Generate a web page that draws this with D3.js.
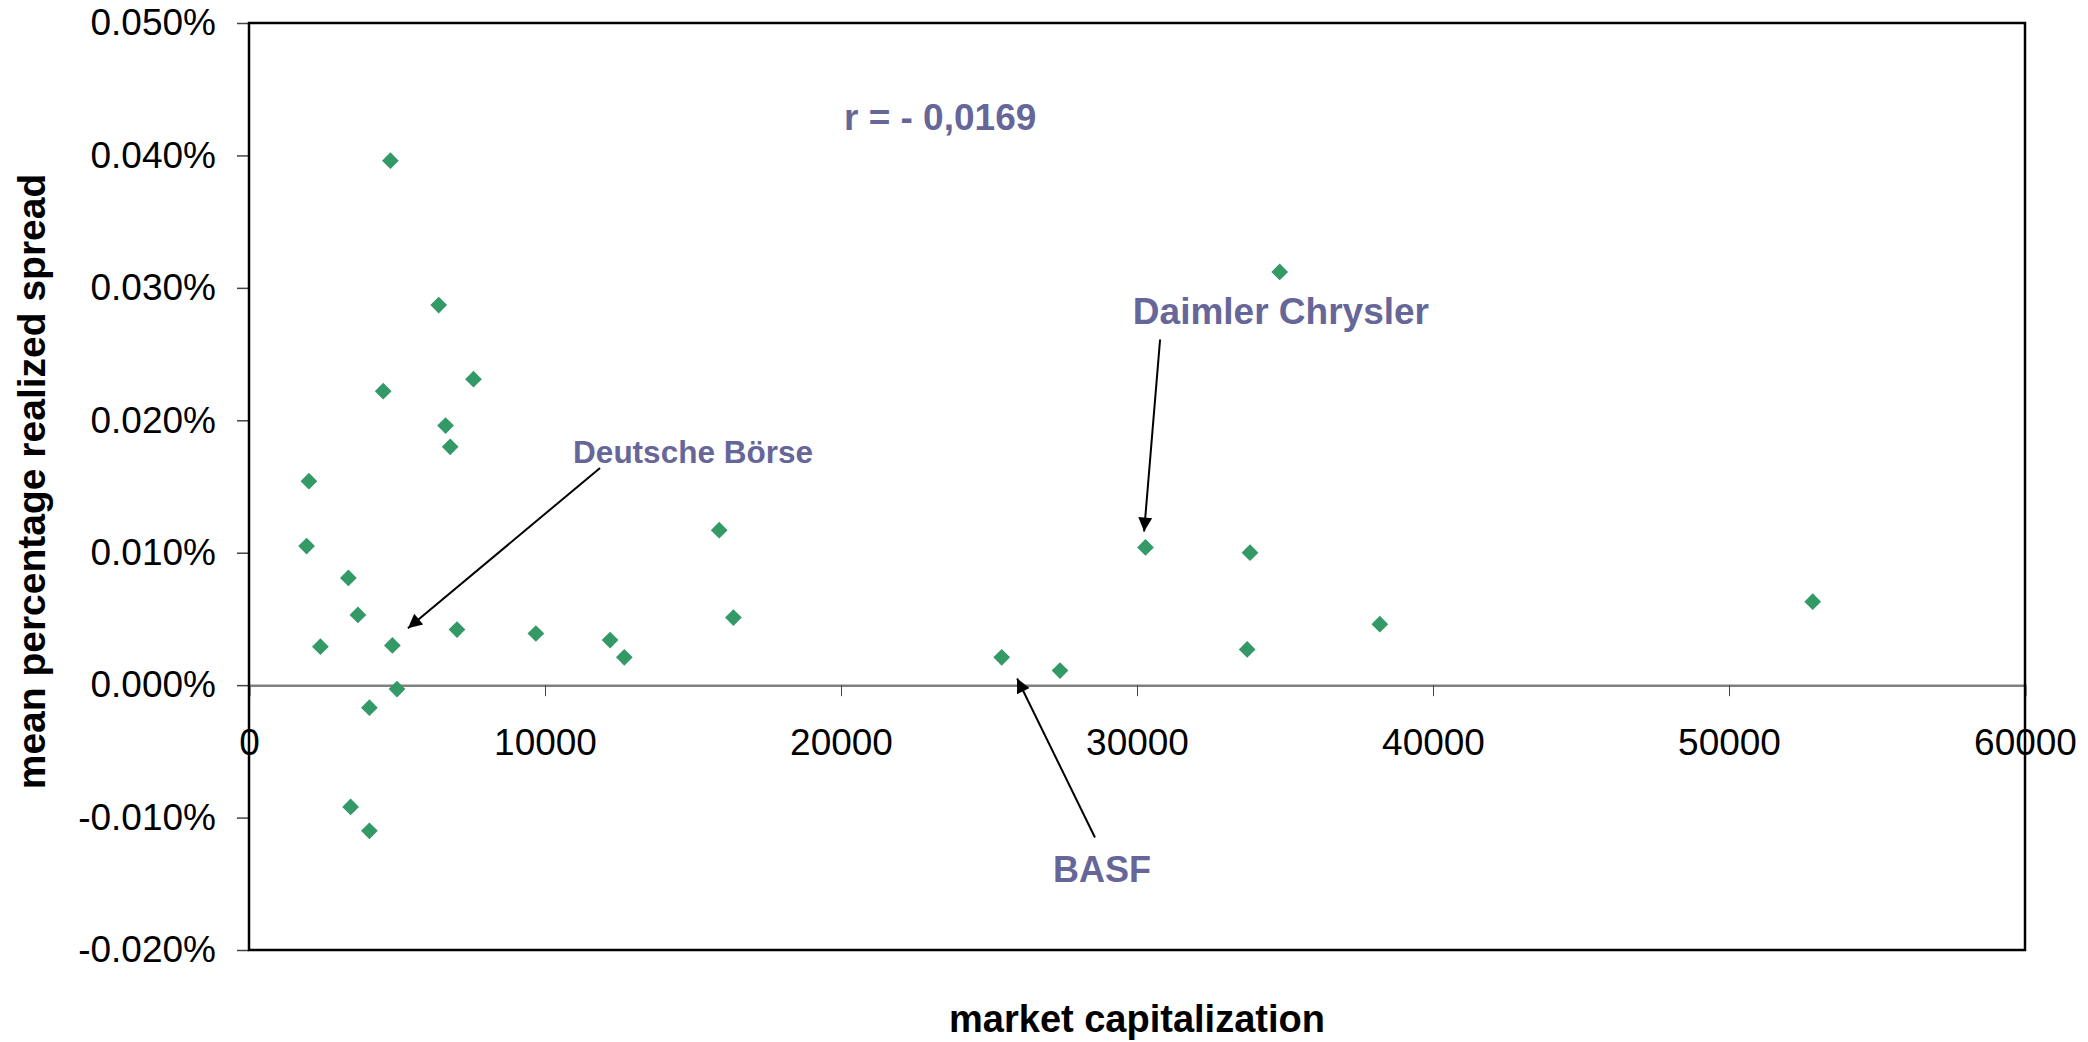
<!DOCTYPE html>
<html>
<head>
<meta charset="utf-8">
<script src="https://cdn.jsdelivr.net/npm/d3@7"></script>
<style>
  body { margin: 0; background: #fff; }
  svg { display: block; font-family: "Liberation Sans", Arial, sans-serif; }
</style>
</head>
<body>
<div id="chart"></div>
<script>
// market capitalization of the 30 stocks
const capitalization = [4777, 6409, 7584, 4534, 6641, 6797, 2024, 15885, 1946, 3357,
    3680, 2412, 4844, 7027, 9692, 12199, 12679, 16365, 5000, 4068,
    3433, 4068, 30287, 33818, 52828, 38203, 33723, 25429, 27399, 34821];
// mean percentage realized spread (in %)
const spread = [0.0396, 0.0287, 0.0231, 0.0222, 0.0196, 0.0180, 0.0154, 0.0117, 0.0105, 0.0081,
    0.0053, 0.0029, 0.0030, 0.0042, 0.0039, 0.0034, 0.0021, 0.0051, -0.0003, -0.0017,
    -0.0092, -0.0110, 0.0104, 0.0100, 0.0063, 0.0046, 0.0027, 0.0021, 0.0011, 0.0312];

const xTicks = [0, 10000, 20000, 30000, 40000, 50000, 60000];
const yTicks = [-0.020, -0.010, 0.000, 0.010, 0.020, 0.030, 0.040, 0.050];

// labels and arrows, in data units
const labels = [
    { text: "r = - 0,0169", x: 20100, y: 0.0419, size: 37 },
    { text: "Daimler Chrysler", x: 29860, y: 0.0273, size: 37 },
    { text: "Deutsche Börse", x: 10950, y: 0.0168, size: 31.5 },
    { text: "BASF", x: 27160, y: -0.0149, size: 36 }
];
const arrows = [
    { x1: 11860, y1: 0.0164, x2: 5370, y2: 0.0043 },
    { x1: 30780, y1: 0.0261, x2: 30240, y2: 0.0116 },
    { x1: 28580, y1: -0.0115, x2: 25950, y2: 0.0005 }
];

const margin = { top: 23, right: 63, bottom: 92, left: 249 };
const width = 2088 - margin.left - margin.right;
const height = 1042 - margin.top - margin.bottom;

const x = d3.scaleLinear().domain([0, 60000]).range([0, width]);
const y = d3.scaleLinear().domain([-0.020, 0.050]).range([height, 0]);

const svg = d3.select("#chart")
    .append("svg")
    .attr("width", 2088)
    .attr("height", 1042);

svg.append("defs").append("marker")
    .attr("id", "arrowhead")
    .attr("viewBox", "0 0 10 10")
    .attr("refX", 10)
    .attr("refY", 5)
    .attr("markerWidth", 9)
    .attr("markerHeight", 7)
    .attr("markerUnits", "strokeWidth")
    .attr("orient", "auto")
    .append("path")
    .attr("d", "M0,0L10,5L0,10z")
    .attr("fill", "#000");

const g = svg.append("g")
    .attr("transform", `translate(${margin.left},${margin.top})`);

// y axis (plain hyphen for negatives, as in the original)
const yAxis = g.append("g")
    .call(d3.axisLeft(y)
        .tickValues(yTicks)
        .tickSize(12)
        .tickPadding(21)
        .tickFormat(d => d3.format(".3f")(d).replace("\u2212", "-") + "%"));
yAxis.select(".domain").remove();
yAxis.selectAll(".tick line").attr("stroke", "#444").attr("stroke-width", 1.5);
yAxis.selectAll(".tick text")
    .style("font-size", "37px")
    .attr("fill", "#000");

// x axis on the zero line
const xAxis = g.append("g")
    .attr("transform", `translate(0,${y(0)})`)
    .call(d3.axisBottom(x)
        .tickValues(xTicks)
        .tickSize(11)
        .tickPadding(33)
        .tickFormat(d3.format("d")));
xAxis.select(".domain").attr("stroke", "#808080").attr("stroke-width", 2.5);
xAxis.selectAll(".tick line").attr("stroke", "#444").attr("stroke-width", 1);
xAxis.selectAll(".tick text")
    .style("font-size", "37px")
    .attr("fill", "#000");

// frame
g.append("rect")
    .attr("width", width)
    .attr("height", height)
    .attr("fill", "none")
    .attr("stroke", "#000")
    .attr("stroke-width", 2.5);

// points
const points = capitalization.map((c, i) => ({ cap: c, spread: spread[i] }));
g.selectAll(".point")
    .data(points)
    .enter()
    .append("path")
    .attr("class", "point")
    .attr("d", d3.symbol(d3.symbolSquare, 140))
    .attr("transform", d => `translate(${x(d.cap)},${y(d.spread)}) rotate(45)`)
    .attr("fill", "#339966");

// arrows
g.selectAll(".arrow")
    .data(arrows)
    .enter()
    .append("line")
    .attr("class", "arrow")
    .attr("x1", d => x(d.x1))
    .attr("y1", d => y(d.y1))
    .attr("x2", d => x(d.x2))
    .attr("y2", d => y(d.y2))
    .attr("stroke", "#000")
    .attr("stroke-width", 2)
    .attr("marker-end", "url(#arrowhead)");

// annotation labels
g.selectAll(".label")
    .data(labels)
    .enter()
    .append("text")
    .attr("class", "label")
    .attr("x", d => x(d.x))
    .attr("y", d => y(d.y))
    .style("font-size", d => d.size + "px")
    .style("font-weight", "bold")
    .attr("fill", "#666699")
    .text(d => d.text);

// axis titles
svg.append("text")
    .attr("x", margin.left + width / 2)
    .attr("y", 1032)
    .attr("text-anchor", "middle")
    .style("font-size", "38px")
    .style("font-weight", "bold")
    .text("market capitalization");

svg.append("text")
    .attr("transform", `translate(45,${margin.top + height / 2 - 5}) rotate(-90)`)
    .attr("text-anchor", "middle")
    .style("font-size", "39px")
    .style("font-weight", "bold")
    .text("mean percentage realized spread");
</script>
</body>
</html>
